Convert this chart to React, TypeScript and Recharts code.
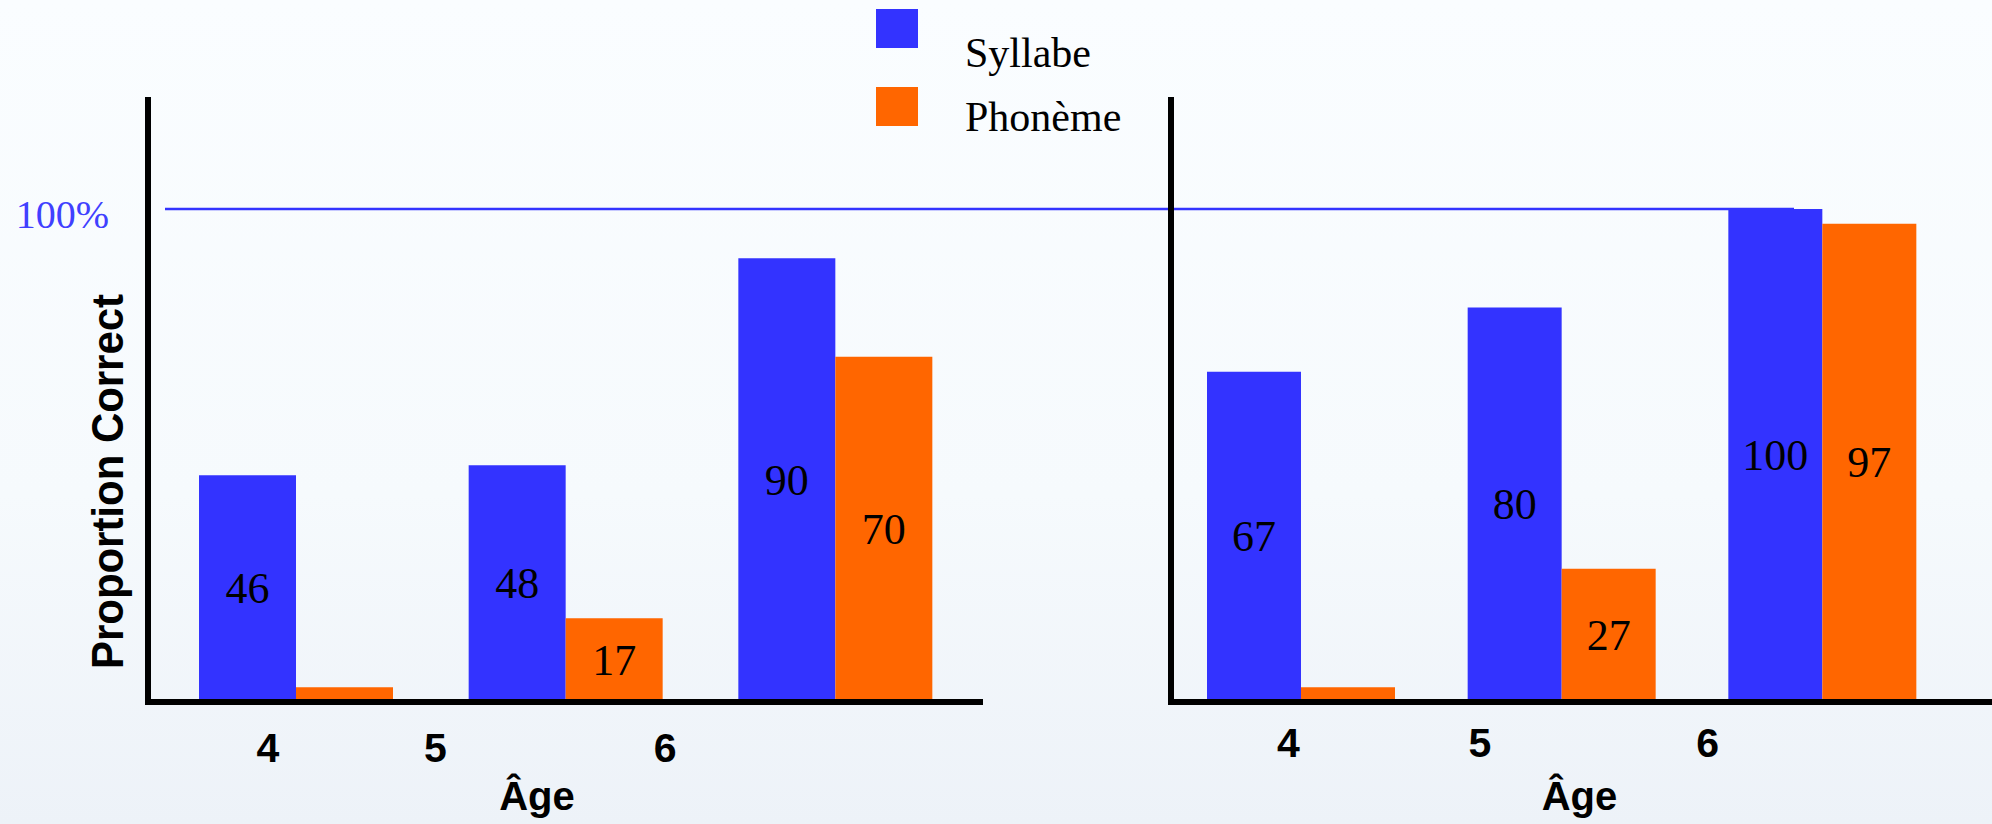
import React from "react";
import { BarChart, Bar, XAxis, YAxis, ReferenceLine, LabelList, Legend } from "recharts";

const ages = ["4", "5", "6"];

// syllable vs phoneme segmentation, first panel
const syllabeLeft = [46, 48, 90];
const phonemeLeft = [3, 17, 70];

// second panel
const syllabeRight = [67, 80, 100];
const phonemeRight = [3, 27, 97];

const percentTicks = [100];
const seriesOrder = ["Syllabe", "Phonème"];

const BLUE = "#3333FF";
const ORANGE = "#FF6600";
const SERIF = '"Liberation Serif", "Times New Roman", serif';
const SANS = '"Liberation Sans", Arial, sans-serif';
const Y_MAX = 122.7;

const toRows = (syl: number[], pho: number[]) =>
  ages.map((age, i) => ({ age, syllabe: syl[i], phoneme: pho[i] }));

const leftRows = toRows(syllabeLeft, phonemeLeft);
const rightRows = toRows(syllabeRight, phonemeRight);

const axisLine = { stroke: "#000", strokeWidth: 6 };

const BarValue = (props: any) => {
  const { x, y, width, height } = props.viewBox ?? props;
  const value = props.value;
  // the thin age-4 phoneme bars carry no figure
  if (value < 5) return null;
  return (
    <text
      x={x + width / 2}
      y={y + height / 2}
      textAnchor="middle"
      dominantBaseline="central"
      fontFamily={SERIF}
      fontSize={44}
      fill="#000"
    >
      {value}
    </text>
  );
};

const ageTick = (shifts: number[], drop: number) => (props: any) => {
  const { x, y, payload } = props;
  const i = props.index ?? payload.index ?? 0;
  return (
    <text
      x={x + shifts[i]}
      y={y + drop}
      textAnchor="middle"
      fontFamily={SANS}
      fontWeight="bold"
      fontSize={41}
      fill="#000"
    >
      {payload.value}
    </text>
  );
};

const ageTitle = (shift: number) => (props: any) => {
  const vb = props.viewBox;
  return (
    <text
      x={vb.x + vb.width / 2 + shift}
      y={vb.y + 108}
      textAnchor="middle"
      fontFamily={SANS}
      fontWeight="bold"
      fontSize={40}
      fill="#000"
    >
      Âge
    </text>
  );
};

const PercentTick = (props: any) => (
  <text
    x={props.x}
    y={props.y + 19}
    textAnchor="end"
    fontFamily={SERIF}
    fontSize={40}
    fill="#4040FF"
  >
    {props.payload.value}%
  </text>
);

const YTitle = (props: any) => {
  const vb = props.viewBox;
  const cx = vb.x + 107;
  const cy = vb.y + vb.height / 2 + 82;
  return (
    <text
      x={cx}
      y={cy}
      transform={`rotate(-90 ${cx} ${cy})`}
      textAnchor="middle"
      dominantBaseline="central"
      fontFamily={SANS}
      fontWeight="bold"
      fontSize={45}
      textLength={375}
      lengthAdjust="spacingAndGlyphs"
      fill="#000"
    >
      Proportion Correct
    </text>
  );
};

const LegendBox = (props: any) => {
  const items = [...(props.payload || [])].sort(
    (a: any, b: any) => seriesOrder.indexOf(a.value) - seriesOrder.indexOf(b.value)
  );
  return (
    <svg width={330} height={140}>
      {items.map((p: any, i: number) => (
        <g key={p.value}>
          <rect x={0} y={9 + i * 78} width={42} height={39} fill={p.color} />
          <text x={89} y={67 + i * 64} fontFamily={SERIF} fontSize={42} fill="#000">
            {p.value}
          </text>
        </g>
      ))}
    </svg>
  );
};

// 100% guide runs from just right of the left axis across into the second panel
const guideLine = (props: any) => (
  <line x1={props.x1 + 17} y1={props.y1} x2={1794} y2={props.y2} stroke={BLUE} strokeWidth={2.5} />
);

export default function App() {
  return (
    <div
      style={{
        position: "relative",
        width: 1992,
        height: 824,
        background: "linear-gradient(to bottom, #FAFDFF 0%, #F6FAFD 60%, #EDF2F8 100%)",
        overflow: "hidden",
      }}
    >
      <style>{"body{margin:0}"}</style>
      <div style={{ position: "absolute", left: 0, top: 0 }}>
        <BarChart
          width={1992}
          height={824}
          data={leftRows}
          margin={{ top: 97, right: 1012, bottom: 62, left: 0 }}
          barGap={0}
          barSize={97}
        >
          <XAxis
            dataKey="age"
            axisLine={{ ...axisLine, strokeLinecap: "square" }}
            tickLine={false}
            tickMargin={0}
            interval={0}
            height={60}
            padding={{ left: 13, right: 10 }}
            tick={ageTick([-28, -130, -170], 54)}
            label={ageTitle(-27)}
          />
          <YAxis
            width={148}
            domain={[0, Y_MAX]}
            ticks={percentTicks}
            axisLine={axisLine}
            tickLine={false}
            tickMargin={33}
            tick={<PercentTick />}
            label={YTitle}
          />
          <ReferenceLine y={100} shape={guideLine} />
          <Legend
            layout="vertical"
            align="center"
            verticalAlign="middle"
            wrapperStyle={{ top: 0, left: 876, width: 330, height: 140 }}
            content={LegendBox}
          />
          <Bar dataKey="syllabe" name="Syllabe" fill={BLUE} isAnimationActive={false}>
            <LabelList dataKey="syllabe" content={BarValue} />
          </Bar>
          <Bar dataKey="phoneme" name="Phonème" fill={ORANGE} isAnimationActive={false}>
            <LabelList dataKey="phoneme" content={BarValue} />
          </Bar>
        </BarChart>
      </div>
      <div style={{ position: "absolute", left: 1100, top: 0 }}>
        <BarChart
          width={892}
          height={824}
          data={rightRows}
          margin={{ top: 97, right: 0, bottom: 62, left: 0 }}
          barGap={0}
          barSize={94}
        >
          <XAxis
            dataKey="age"
            axisLine={{ ...axisLine, strokeLinecap: "square" }}
            tickLine={false}
            tickMargin={0}
            interval={0}
            height={60}
            padding={{ left: 0, right: 39 }}
            tick={ageTick([-13, -82, -115], 49)}
            label={ageTitle(-2)}
          />
          <YAxis width={71} domain={[0, Y_MAX]} axisLine={axisLine} tickLine={false} tick={false} />
          <Bar dataKey="syllabe" name="Syllabe" fill={BLUE} isAnimationActive={false}>
            <LabelList dataKey="syllabe" content={BarValue} />
          </Bar>
          <Bar dataKey="phoneme" name="Phonème" fill={ORANGE} isAnimationActive={false}>
            <LabelList dataKey="phoneme" content={BarValue} />
          </Bar>
        </BarChart>
      </div>
    </div>
  );
}
